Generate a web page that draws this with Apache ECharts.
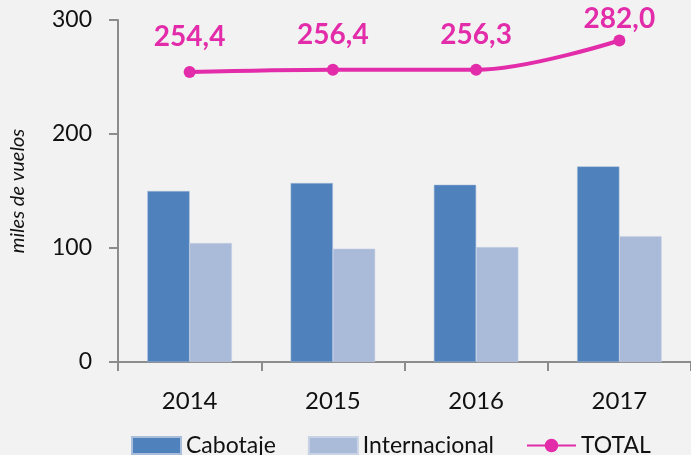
<!DOCTYPE html>
<html>
<head>
<meta charset="utf-8">
<script src="https://cdn.jsdelivr.net/npm/echarts@6/dist/echarts.min.js"></script>
<style>
  html, body { margin: 0; padding: 0; background: #f2f2f2; }
  #chart { width: 691px; height: 455px; }
</style>
</head>
<body>
<div id="chart"></div>
<script>
// datos
var years = ['2014', '2015', '2016', '2017'];
var cabotaje = [150.0, 157.0, 155.5, 171.6];
var internacional = [104.4, 99.4, 100.8, 110.4];
var total = [254.4, 256.4, 256.3, 282.0];
var yTicks = [0, 100, 200, 300];

var pink = '#e22ca9';
var axisGrey = '#8c8c8c';

var chart = echarts.init(document.getElementById('chart'));

// la ultima etiqueta queda mas pegada al punto
var totalData = total.map(function (v, i) {
  return i === total.length - 1 ? { value: v, label: { distance: 2 } } : v;
});

var option = {
  backgroundColor: '#f2f2f2',
  animation: false,
  grid: { left: 116, right: -5, top: 20, bottom: 93 },
  legend: {
    bottom: -7,
    left: 126,
    itemWidth: 49,
    itemHeight: 17,
    itemGap: 32,
    textStyle: { fontFamily: 'Lato', fontSize: 23, color: '#111' },
    data: [
      { name: 'Cabotaje', icon: 'rect' },
      { name: 'Internacional', icon: 'rect' },
      { name: 'TOTAL' }
    ]
  },
  xAxis: {
    type: 'category',
    data: years,
    axisLine: { lineStyle: { color: axisGrey, width: 2 } },
    axisTick: { show: true, length: 9, lineStyle: { color: axisGrey, width: 2 } },
    axisLabel: { fontFamily: 'Lato', fontSize: 24, color: '#111', margin: 27 }
  },
  yAxis: {
    type: 'value',
    min: yTicks[0],
    max: yTicks[yTicks.length - 1],
    interval: 100,
    name: 'miles de vuelos',
    nameLocation: 'middle',
    nameRotate: 90,
    nameGap: 90,
    nameTextStyle: { fontFamily: 'Lato', fontSize: 20, fontStyle: 'italic', color: '#111' },
    splitLine: { show: false },
    axisLine: { show: true, lineStyle: { color: axisGrey, width: 2 } },
    axisTick: { show: true, length: 9, lineStyle: { color: axisGrey, width: 2 } },
    axisLabel: { fontFamily: 'Lato', fontSize: 23, color: '#111', margin: 26 }
  },
  series: [
    {
      name: 'Cabotaje',
      type: 'bar',
      data: cabotaje,
      barGap: '0%',
      barCategoryGap: '41%',
      itemStyle: { color: '#4f81bd', borderColor: '#a9bedb', borderWidth: 0.5 }
    },
    {
      name: 'Internacional',
      type: 'bar',
      data: internacional,
      itemStyle: { color: '#aabad9', borderColor: '#c9d3e6', borderWidth: 0.5 }
    },
    {
      name: 'TOTAL',
      type: 'line',
      data: totalData,
      smooth: 0.35,
      symbol: 'circle',
      symbolSize: 12,
      lineStyle: { color: pink, width: 4 },
      itemStyle: { color: pink },
      label: {
        show: true,
        position: 'top',
        distance: 15,
        fontFamily: 'Lato',
        fontSize: 28,
        fontWeight: 'bold',
        color: pink,
        formatter: function (p) {
          return p.value.toFixed(1).replace('.', ',');
        }
      }
    }
  ]
};

chart.setOption(option);
</script>
</body>
</html>
